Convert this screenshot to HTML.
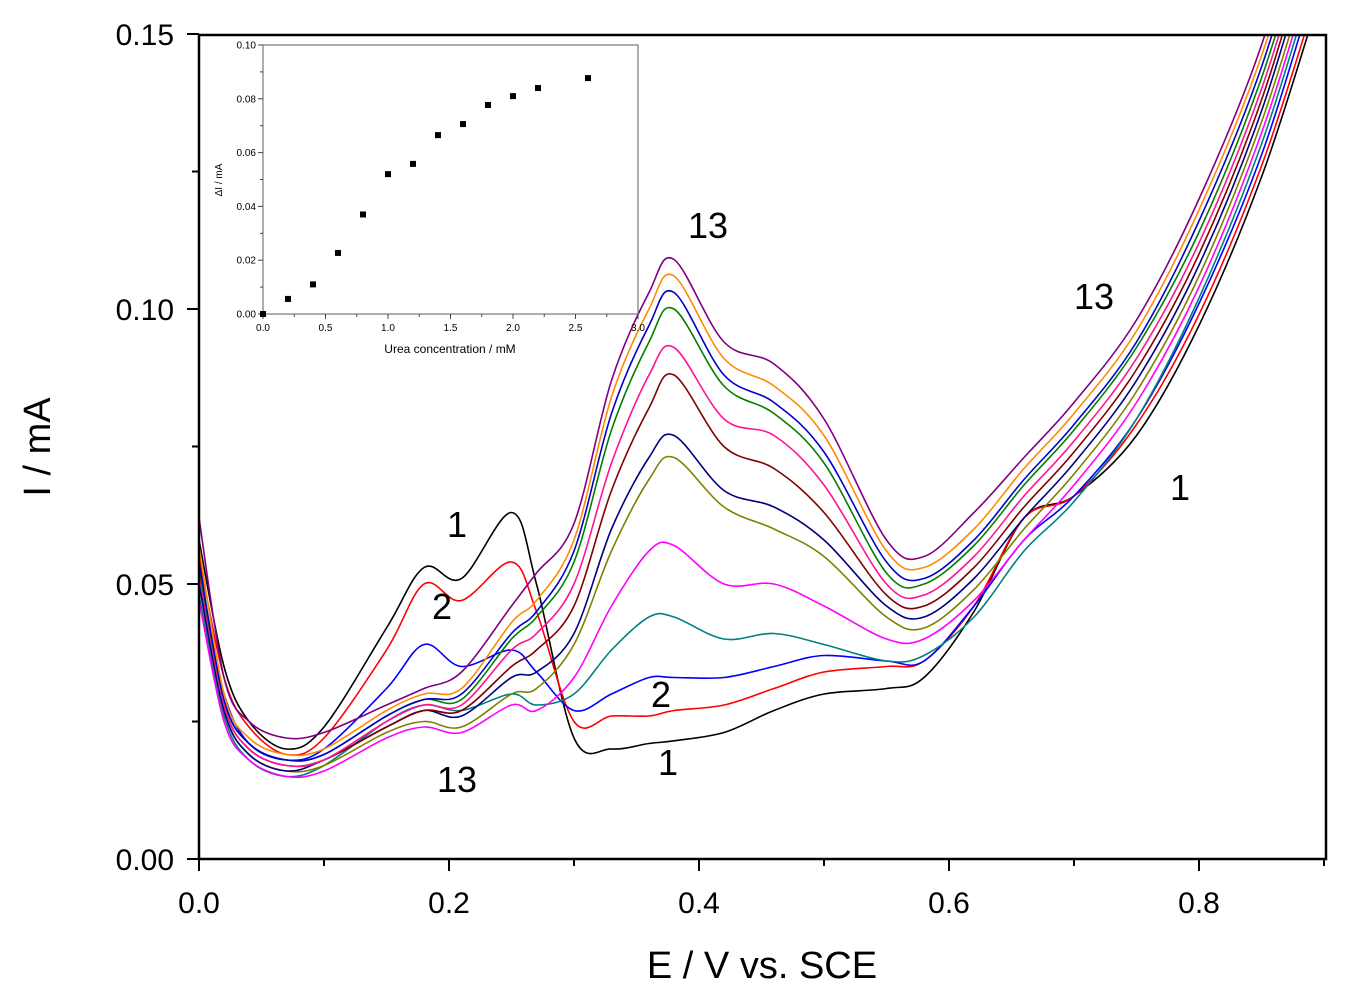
<!DOCTYPE html>
<html><head><meta charset="utf-8"><style>
body{margin:0;background:#fff}
svg text{font-family:"Liberation Sans",Arial,sans-serif}
</style></head><body>
<svg id="c" width="1348" height="1000" viewBox="0 0 1348 1000" xmlns="http://www.w3.org/2000/svg">
<g id="curves"></g>
<g id="axes"></g>
<g id="inset"></g>
<text x="762" y="978" font-size="38" text-anchor="middle">E / V vs. SCE</text>
<text transform="translate(50,447) rotate(-90)" font-size="38" text-anchor="middle">I / mA</text>
<g font-size="36">
<text x="447" y="537">1</text>
<text x="432" y="619">2</text>
<text x="437" y="792">13</text>
<text x="688" y="238">13</text>
<text x="651" y="707">2</text>
<text x="658" y="775">1</text>
<text x="1074" y="309">13</text>
<text x="1170" y="500">1</text>
</g>
</svg>
<script>
const E = [0,0.02,0.04,0.07,0.1,0.15,0.18,0.21,0.25,0.27,0.3,0.33,0.36,0.38,0.42,0.46,0.5,0.55,0.58,0.62,0.66,0.7,0.75,0.8,0.85,0.89];
const s1 = [0.058,0.035,0.025,0.020,0.024,0.042,0.053,0.051,0.063,0.050,0.022,0.020,0.021,0.0215,0.023,0.027,0.030,0.031,0.033,0.045,0.062,0.066,0.077,0.097,0.124,0.152];
const s2 = [0.055,0.033,0.024,0.019,0.022,0.038,0.050,0.047,0.054,0.045,0.025,0.026,0.026,0.027,0.028,0.031,0.034,0.035,0.036,0.046,0.062,0.066,0.079,0.099,0.126,0.154];
const s3 = [0.050,0.030,0.021,0.018,0.020,0.031,0.039,0.035,0.038,0.034,0.027,0.030,0.033,0.033,0.033,0.035,0.037,0.036,0.036,0.046,0.058,0.066,0.080,0.101,0.128,0.157];
const s4 = [0.048,0.026,0.018,0.015,0.017,0.025,0.028,0.027,0.030,0.028,0.030,0.038,0.044,0.044,0.040,0.041,0.039,0.036,0.037,0.044,0.056,0.065,0.080,0.102,0.130,0.159];
const s5 = [0.047,0.025,0.018,0.015,0.016,0.022,0.024,0.023,0.028,0.027,0.033,0.046,0.056,0.057,0.050,0.050,0.046,0.040,0.040,0.047,0.058,0.068,0.083,0.104,0.132,0.161];
const s6 = [0.050,0.027,0.019,0.016,0.017,0.023,0.025,0.024,0.030,0.031,0.039,0.056,0.069,0.073,0.064,0.060,0.055,0.044,0.042,0.049,0.060,0.070,0.085,0.106,0.134,0.163];
const s7 = [0.050,0.027,0.019,0.016,0.018,0.024,0.027,0.026,0.033,0.034,0.041,0.060,0.073,0.077,0.067,0.064,0.058,0.046,0.044,0.051,0.062,0.072,0.087,0.108,0.136,0.166];
const s8 = [0.052,0.028,0.020,0.017,0.018,0.024,0.027,0.027,0.035,0.038,0.046,0.067,0.082,0.088,0.075,0.071,0.063,0.048,0.046,0.053,0.064,0.074,0.089,0.110,0.138,0.168];
const s9 = [0.052,0.028,0.020,0.017,0.018,0.025,0.028,0.028,0.038,0.041,0.050,0.072,0.088,0.093,0.080,0.077,0.068,0.050,0.048,0.055,0.066,0.076,0.091,0.112,0.140,0.170];
const s10 = [0.053,0.029,0.021,0.018,0.019,0.026,0.029,0.029,0.040,0.044,0.054,0.078,0.094,0.100,0.086,0.081,0.072,0.052,0.050,0.057,0.068,0.078,0.093,0.114,0.142,0.172];
const s11 = [0.054,0.029,0.021,0.018,0.019,0.026,0.029,0.030,0.041,0.045,0.056,0.081,0.097,0.103,0.088,0.083,0.074,0.054,0.051,0.058,0.069,0.079,0.094,0.116,0.144,0.175];
const s12 = [0.057,0.030,0.022,0.019,0.020,0.027,0.030,0.031,0.043,0.047,0.058,0.084,0.100,0.106,0.091,0.086,0.077,0.056,0.053,0.060,0.071,0.081,0.096,0.118,0.146,0.177];
const s13 = [0.062,0.033,0.025,0.022,0.023,0.028,0.031,0.034,0.046,0.052,0.061,0.087,0.103,0.109,0.094,0.090,0.080,0.058,0.055,0.063,0.073,0.083,0.098,0.120,0.148,0.180];
const seriesList = [s1,s2,s3,s4,s5,s6,s7,s8,s9,s10,s11,s12,s13];
const colors = ['#000','#f00','#00f','#008080','#f0f','#808000','#000080','#800000','#ff1493','#008000','#0000cd','#ff8c00','#800080'];
const xTicks = ['0.0','0.2','0.4','0.6','0.8'];
const yTicks = ['0.00','0.05','0.10','0.15'];
const conc = [0,0.2,0.4,0.6,0.8,1.0,1.2,1.4,1.6,1.8,2.0,2.2,2.6];
const dI = [0,0.0056,0.011,0.0227,0.037,0.052,0.0558,0.0665,0.0706,0.0777,0.081,0.084,0.0877];
const ixTicks = ['0.0','0.5','1.0','1.5','2.0','2.5','3.0'];
const iyTicks = ['0.00','0.02','0.04','0.06','0.08','0.10'];

const NS='http://www.w3.org/2000/svg';
function mk(t,a,p){const e=document.createElementNS(NS,t);for(const k in a)e.setAttribute(k,a[k]);p.appendChild(e);return e;}
const X=v=>199+v*1250, Y=v=>859-v*5500;
const IX=v=>263+v*125, IY=v=>314-v*2690;

const defs=mk('defs',{},document.getElementById('c'));
const cp=mk('clipPath',{id:'pc'},defs);mk('rect',{x:199,y:35,width:1127,height:824},cp);
const cg=document.getElementById('curves');cg.setAttribute('clip-path','url(#pc)');
function smooth(pts){let d='M'+pts[0][0]+','+pts[0][1];
 for(let i=0;i<pts.length-1;i++){const p0=pts[i-1]||pts[i],p1=pts[i],p2=pts[i+1],p3=pts[i+2]||p2;
  const c1=[p1[0]+(p2[0]-p0[0])/6,p1[1]+(p2[1]-p0[1])/6],c2=[p2[0]-(p3[0]-p1[0])/6,p2[1]-(p3[1]-p1[1])/6];
  d+=' C'+c1[0].toFixed(1)+','+c1[1].toFixed(1)+' '+c2[0].toFixed(1)+','+c2[1].toFixed(1)+' '+p2[0].toFixed(1)+','+p2[1].toFixed(1);}
 return d;}
seriesList.forEach((s,i)=>{const p=mk('path',{d:smooth(E.map((e,j)=>[X(e),Y(s[j])])),fill:'none',stroke:colors[i],'stroke-width':1.6},cg);

});

const ax=document.getElementById('axes');
const fr=mk('rect',{x:199,y:35,width:1127,height:824,fill:'none',stroke:'#000','stroke-width':2.5},ax);


xTicks.forEach((t,i)=>{const v=i*0.2;mk('line',{x1:X(v),x2:X(v),y1:859,y2:871,stroke:'#000','stroke-width':2},ax);
 const tx=mk('text',{x:X(v),y:913,'font-size':30,'text-anchor':'middle'},ax);tx.textContent=t;
 
 
 mk('line',{x1:X(v+0.1),x2:X(v+0.1),y1:859,y2:866,stroke:'#000','stroke-width':2},ax);});
yTicks.forEach((t,i)=>{const v=i*0.05;mk('line',{x1:187,x2:199,y1:Y(v),y2:Y(v),stroke:'#000','stroke-width':2},ax);
 const tx=mk('text',{x:174,y:Y(v)+11,'font-size':30,'text-anchor':'end'},ax);tx.textContent=t;
 
 
 if(i<3)mk('line',{x1:192,x2:199,y1:Y(v+0.025),y2:Y(v+0.025),stroke:'#000','stroke-width':2},ax);});

const ig=document.getElementById('inset');
mk('rect',{x:263,y:45,width:375,height:269,fill:'#fff',stroke:'#777','stroke-width':1.2},ig);
ixTicks.forEach((t,i)=>{const v=i*0.5;mk('line',{x1:IX(v),x2:IX(v),y1:314,y2:319,stroke:'#444'},ig);
 if(i<6)mk('line',{x1:IX(v+0.25),x2:IX(v+0.25),y1:314,y2:317,stroke:'#444'},ig);
 const tx=mk('text',{x:IX(v),y:331,'font-size':10,'text-anchor':'middle'},ig);tx.textContent=t;
 
 });
iyTicks.forEach((t,i)=>{const v=i*0.02;mk('line',{x1:258,x2:263,y1:IY(v),y2:IY(v),stroke:'#444'},ig);
 if(i<5)mk('line',{x1:260,x2:263,y1:IY(v+0.01),y2:IY(v+0.01),stroke:'#444'},ig);
 const tx=mk('text',{x:256,y:IY(v)+3.5,'font-size':10,'text-anchor':'end'},ig);tx.textContent=t;
 
 });
conc.forEach((c,i)=>{const r=mk('rect',{x:IX(c)-3,y:IY(dI[i])-3,width:6,height:6,fill:'#000'},ig);
 
 });
const ixl=mk('text',{x:450,y:353,'font-size':12,'text-anchor':'middle'},ig);ixl.textContent='Urea concentration / mM';


const iyl=mk('text',{transform:'translate(222,180) rotate(-90)','font-size':10,'text-anchor':'middle'},ig);iyl.textContent='ΔI / mA';


</script>
</body></html>
